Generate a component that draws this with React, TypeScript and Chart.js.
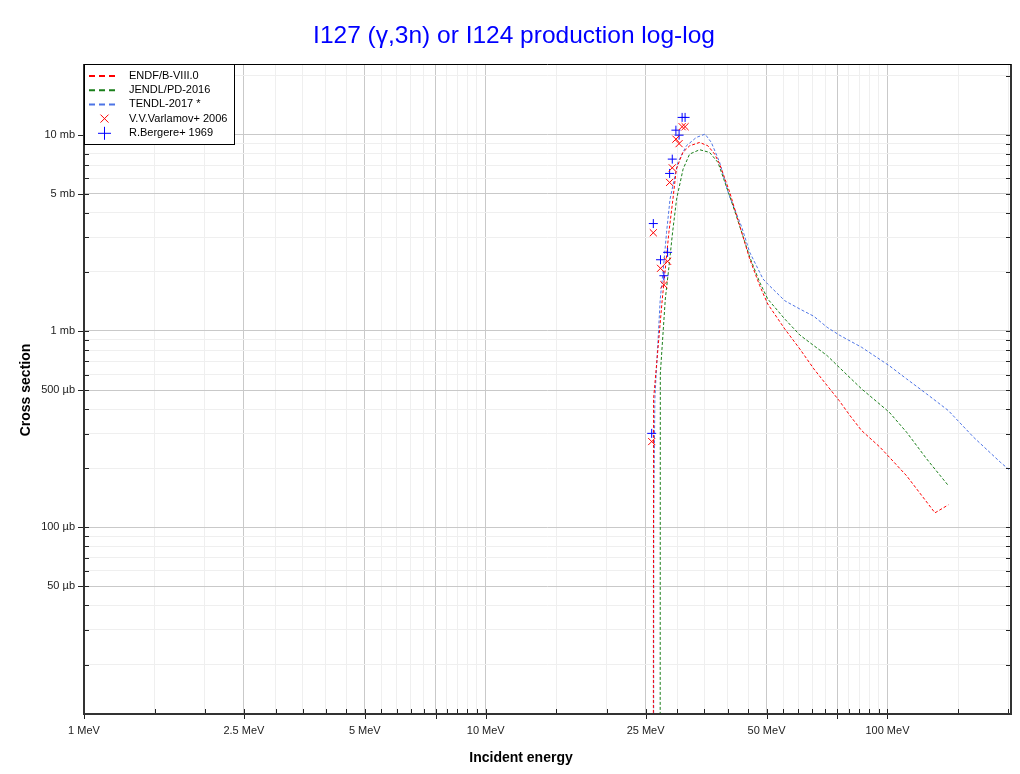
import React, { useEffect, useRef } from "react";
import { Chart, registerables } from "chart.js";

Chart.register(...registerables);

const FONT = "'Liberation Sans', Arial, Helvetica, sans-serif";

const TITLE = "I127 (γ,3n) or I124 production log-log";
const X_TITLE = "Incident energy";
const Y_TITLE = "Cross section";

// value standing for a zero cross section (below the visible log range)
const BELOW = 1e-6;

// Energies in MeV, cross sections in mb
const endfE = [1, 26.06, 26.17, 27.51, 28.04, 28.57, 29.24, 29.81, 30.95, 32.17, 34.07, 35.74, 37.14, 38.22, 40.48, 42.87, 45.41, 48.09, 50.35, 55.51, 60.51, 65.58, 70.77, 75.82, 80.64, 86.23, 95.79, 101.0, 111.6, 131.3, 141.8];
const endfS = [BELOW, BELOW, 0.451, 1.455, 2.149, 3.179, 4.696, 6.674, 8.118, 8.77, 9.127, 8.77, 7.959, 7.078, 5.097, 3.435, 2.325, 1.7, 1.372, 1.024, 0.81, 0.641, 0.527, 0.442, 0.371, 0.311, 0.256, 0.228, 0.183, 0.1185, 0.1302];

const jendlE = [1, 27.13, 27.2, 27.99, 28.6, 29.18, 29.86, 30.99, 32.17, 34.07, 36.08, 37.85, 40.48, 42.87, 45.41, 48.09, 50.35, 55.51, 60.51, 65.58, 70.77, 75.82, 86.23, 101.0, 111.6, 125.2, 141.8];
const jendlS = [BELOW, BELOW, 0.604, 1.455, 2.149, 3.179, 4.696, 6.674, 7.96, 8.38, 8.118, 7.22, 4.864, 3.42, 2.38, 1.769, 1.455, 1.151, 0.954, 0.842, 0.749, 0.653, 0.507, 0.386, 0.305, 0.223, 0.163];

const tendlE = [1, 26.12, 26.2, 26.36, 27.19, 27.72, 28.19, 28.76, 30.08, 31.57, 33.43, 35.16, 36.44, 38.22, 40.25, 43.37, 45.41, 49.01, 50.35, 55.51, 60.51, 65.58, 70.77, 75.82, 86.23, 101.0, 111.6, 125.2, 141.8, 163.7, 190.8, 209.2];
const tendlS = [BELOW, BELOW, 0.1105, 0.451, 1.455, 2.149, 3.179, 4.696, 7.22, 8.77, 9.678, 10.06, 9.127, 7.22, 4.98, 3.383, 2.515, 1.839, 1.734, 1.426, 1.294, 1.188, 1.044, 0.954, 0.826, 0.666, 0.57, 0.478, 0.393, 0.288, 0.215, 0.183];

const varlE = [25.89, 26.13, 27.23, 27.76, 28.36, 28.69, 29.13, 29.74, 30.29, 30.82, 31.35];
const varlS = [0.2734, 3.164, 2.085, 1.72, 2.263, 5.71, 6.777, 9.487, 8.999, 10.98, 10.98];

const bergE = [25.89, 26.13, 27.23, 27.76, 28.36, 28.69, 29.13, 29.74, 30.29, 30.82, 31.35];
const bergS = [0.301, 3.525, 2.306, 1.912, 2.515, 6.346, 7.505, 10.54, 9.94, 12.24, 12.24];

const SERIES_NAMES = ["ENDF/B-VIII.0", "JENDL/PD-2016", "TENDL-2017 *", "V.V.Varlamov+ 2006", "R.Bergere+ 1969"];
const COLORS = ["#ff0000", "#1a7f1a", "#4d74e6", "#ff0000", "#0000ff"];

const X_MIN = 1;
const X_MAX = 203;
const Y_MIN = 0.0112;
const Y_MAX = 22.9;

const X_TICK_MULTS = [1, 1.5, 2, 2.5, 3, 3.5, 4, 4.5, 5, 5.5, 6, 6.5, 7, 7.5, 8, 8.5, 9, 9.5];
const X_MAJOR = [1, 2.5, 5, 7.5];
const X_LABELED = [1, 2.5, 5];
const Y_TICK_MULTS = [1, 2, 3, 4, 5, 6, 7, 8, 9];
const Y_MAJOR = [1, 5];
const Y_LABELED = [1, 5];

const mant = (v: number) => {
  const e = Math.floor(Math.log10(v) + 1e-9);
  return v / Math.pow(10, e);
};
const inList = (v: number, list: number[]) => {
  const m = mant(v);
  return list.some((l) => Math.abs(l - m) < 1e-6);
};

const buildTicks = (mults: number[], min: number, max: number) => {
  const out: { value: number }[] = [];
  for (let d = -3; d <= 3; d++) {
    for (const m of mults) {
      const v = d >= 0 ? m * Math.pow(10, d) : m / Math.pow(10, -d);
      if (v >= min * 0.9999 && v <= max * 1.0001) out.push({ value: v });
    }
  }
  return out;
};

const fmtX = (v: number) => {
  const r = Math.round(v * 10) / 10;
  return `${r} MeV`;
};
const fmtY = (v: number) => (v >= 1 ? `${Math.round(v)} mb` : `${Math.round(v * 1000)} µb`);

const pts = (xs: number[], ys: number[]) => xs.map((x, i) => ({ x, y: ys[i] }));

const decor = {
  id: "decor",
  afterDraw(chart: any) {
    const ctx = chart.ctx as CanvasRenderingContext2D;
    const { left, right, top, bottom } = chart.chartArea;
    const xs = chart.scales.x;
    const ys = chart.scales.y;
    ctx.save();

    // tick marks
    ctx.strokeStyle = "#222";
    ctx.lineWidth = 1;
    for (const t of xs.ticks) {
      const px = Math.round(xs.getPixelForValue(t.value)) + 0.5;
      const major = inList(t.value, X_MAJOR);
      ctx.beginPath();
      ctx.moveTo(px, bottom - 5);
      ctx.lineTo(px, bottom + (major ? 5 : 0));
      ctx.stroke();
    }
    for (const t of ys.ticks) {
      const py = Math.round(ys.getPixelForValue(t.value)) + 0.5;
      const major = inList(t.value, Y_MAJOR);
      ctx.beginPath();
      ctx.moveTo(left - (major ? 6 : 0), py);
      ctx.lineTo(left + 5, py);
      ctx.moveTo(right - 5, py);
      ctx.lineTo(right, py);
      ctx.stroke();
    }

    // frame
    ctx.strokeStyle = "#333";
    ctx.lineWidth = 2;
    ctx.beginPath();
    ctx.moveTo(left, top);
    ctx.lineTo(left, bottom);
    ctx.lineTo(right, bottom);
    ctx.lineTo(right, top);
    ctx.stroke();
    ctx.strokeStyle = "#000";
    ctx.lineWidth = 1;
    ctx.beginPath();
    ctx.moveTo(left, top + 0.5);
    ctx.lineTo(right, top + 0.5);
    ctx.stroke();

    // legend
    const lx = 84.5, ly = 64.5, lw = 150, lh = 80;
    ctx.fillStyle = "#fff";
    ctx.fillRect(lx, ly, lw, lh);
    ctx.strokeStyle = "#000";
    ctx.lineWidth = 1;
    ctx.strokeRect(lx, ly, lw, lh);
    ctx.font = `11px ${FONT}`;
    ctx.textAlign = "left";
    ctx.textBaseline = "middle";
    SERIES_NAMES.forEach((name, i) => {
      const yy = 76 + i * 14.2;
      ctx.strokeStyle = COLORS[i];
      if (i < 3) {
        ctx.lineWidth = 2;
        ctx.setLineDash([6, 4]);
        ctx.beginPath();
        ctx.moveTo(89, yy);
        ctx.lineTo(116, yy);
        ctx.stroke();
        ctx.setLineDash([]);
      } else if (i === 3) {
        ctx.lineWidth = 1;
        ctx.beginPath();
        ctx.moveTo(100.5, yy - 4);
        ctx.lineTo(108.5, yy + 4);
        ctx.moveTo(108.5, yy - 4);
        ctx.lineTo(100.5, yy + 4);
        ctx.stroke();
      } else {
        ctx.lineWidth = 1;
        ctx.beginPath();
        ctx.moveTo(98, yy + 0.5);
        ctx.lineTo(111, yy + 0.5);
        ctx.moveTo(104.5, yy - 6);
        ctx.lineTo(104.5, yy + 7);
        ctx.stroke();
      }
      ctx.fillStyle = "#000";
      ctx.fillText(name, 129, yy);
    });

    // titles
    ctx.fillStyle = "#0000ff";
    ctx.font = `24.5px ${FONT}`;
    ctx.textAlign = "center";
    ctx.textBaseline = "middle";
    ctx.fillText(TITLE, 514, 36);

    ctx.fillStyle = "#000";
    ctx.font = `bold 14px ${FONT}`;
    ctx.fillText(X_TITLE, 521, 758);
    ctx.translate(26, 390);
    ctx.rotate(-Math.PI / 2);
    ctx.fillText(Y_TITLE, 0, 0);

    ctx.restore();
  },
};

export default function App() {
  const ref = useRef<HTMLCanvasElement>(null);

  useEffect(() => {
    const canvas = ref.current;
    if (!canvas) return;
    const lineDs = (label: string, data: any[], color: string) => ({
      label,
      data,
      borderColor: color,
      backgroundColor: color,
      borderWidth: 1,
      borderDash: [3, 2],
      pointRadius: 0,
      fill: false,
      tension: 0,
      order: 2,
    });
    const pointDs = (label: string, data: any[], color: string, style: string, r: number) => ({
      label,
      data,
      borderColor: color,
      backgroundColor: color,
      borderWidth: 1,
      showLine: false,
      pointStyle: style,
      pointRadius: r,
      order: 1,
    });

    const chart = new Chart(canvas, {
      type: "line",
      data: {
        datasets: [
          lineDs(SERIES_NAMES[0], pts(endfE, endfS), COLORS[0]),
          lineDs(SERIES_NAMES[1], pts(jendlE, jendlS), COLORS[1]),
          lineDs(SERIES_NAMES[2], pts(tendlE, tendlS), COLORS[2]),
          pointDs(SERIES_NAMES[3], pts(varlE, varlS), COLORS[3], "crossRot", 5),
          pointDs(SERIES_NAMES[4], pts(bergE, bergS), COLORS[4], "cross", 4.5),
        ] as any,
      },
      options: {
        responsive: false,
        animation: false,
        devicePixelRatio: 1,
        events: [],
        layout: { padding: { top: 64, right: 9, left: 0, bottom: 0 } },
        plugins: {
          legend: { display: false },
          title: { display: false },
          tooltip: { enabled: false },
        },
        scales: {
          x: {
            type: "logarithmic",
            min: X_MIN,
            max: X_MAX,
            afterBuildTicks: (s: any) => {
              s.ticks = buildTicks(X_TICK_MULTS, X_MIN, X_MAX);
            },
            afterFit: (s: any) => {
              s.height = 60;
            },
            border: { display: false },
            grid: {
              drawTicks: false,
              lineWidth: 1,
              color: (c: any) => (c.tick && inList(c.tick.value, X_MAJOR) ? "#c9c9c9" : "#efefef"),
            },
            ticks: {
              autoSkip: false,
              maxRotation: 0,
              minRotation: 0,
              padding: 10,
              color: "#222",
              font: { family: FONT, size: 11 },
              callback: (v: any) => (inList(Number(v), X_LABELED) ? fmtX(Number(v)) : ""),
            },
          },
          y: {
            type: "logarithmic",
            min: Y_MIN,
            max: Y_MAX,
            afterBuildTicks: (s: any) => {
              s.ticks = buildTicks(Y_TICK_MULTS, Y_MIN, Y_MAX);
            },
            afterFit: (s: any) => {
              s.width = 84;
            },
            border: { display: false },
            grid: {
              drawTicks: false,
              lineWidth: 1,
              color: (c: any) => (c.tick && inList(c.tick.value, Y_MAJOR) ? "#c9c9c9" : "#efefef"),
            },
            ticks: {
              autoSkip: false,
              padding: 9,
              color: "#222",
              font: { family: FONT, size: 11 },
              callback: (v: any) => (inList(Number(v), Y_LABELED) ? fmtY(Number(v)) : ""),
            },
          },
        },
      } as any,
      plugins: [decor],
    });
    return () => chart.destroy();
  }, []);

  return (
    <div style={{ position: "absolute", left: 0, top: 0, width: 1020, height: 774, background: "#fff" }}>
      <canvas ref={ref} width={1020} height={774} style={{ display: "block", width: 1020, height: 774 }} />
    </div>
  );
}
